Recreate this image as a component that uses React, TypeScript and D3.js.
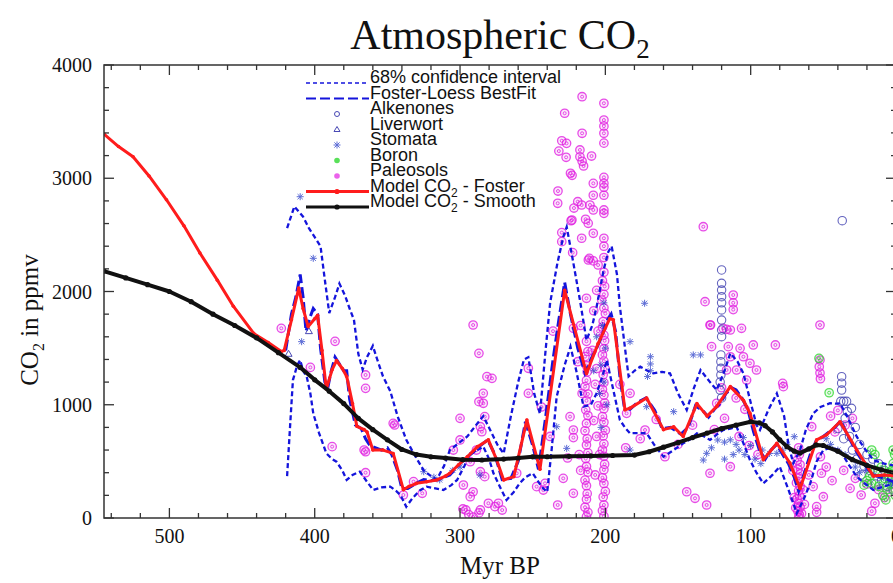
import React from 'react'
import * as d3 from 'd3'

const width = 893
const height = 583
const margin = {top: 65, right: -3, bottom: 65, left: 104}
const plotRight = width - margin.right
const plotBottom = height - margin.bottom

// [Myr BP, ppmv]
const smoothModel: [number, number][] = [
  [545, 2180], [530, 2120], [515, 2060], [500, 2000], [485, 1910], [470, 1800], [455, 1700],
  [440, 1590], [425, 1460], [410, 1330], [400, 1220], [390, 1120], [380, 1010], [370, 880],
  [360, 780], [350, 690], [340, 605], [330, 560], [320, 540], [310, 530], [298, 515], [285, 512],
  [270, 520], [260, 530], [250, 540], [240, 541], [225, 545], [210, 548], [195, 552], [180, 556],
  [170, 585], [160, 625], [150, 665], [140, 710], [130, 750], [120, 790], [110, 820], [100, 850],
  [94, 840], [90, 815], [85, 760], [80, 690], [75, 630], [70, 590], [66, 573], [60, 610],
  [55, 645], [50, 640], [40, 590], [30, 515], [20, 465], [10, 425], [0, 395],
]

const fosterModel: [number, number][] = [
  [545, 3390], [535, 3280], [525, 3190], [514, 3020], [502, 2810], [490, 2580], [479, 2340],
  [467, 2100], [456, 1870], [442, 1630], [432, 1550], [423, 1470], [421, 1480], [416, 1750],
  [411, 2030], [408, 1850], [404.5, 1690], [400, 1760], [398, 1790], [395, 1480], [392, 1140],
  [388, 1310], [385, 1390], [381, 1320], [378, 1250], [374, 1010], [371, 810], [366, 780],
  [364, 760], [360, 600], [353, 600], [346, 570], [339, 250], [335, 280], [330, 306], [323, 320],
  [316, 336], [310, 370], [307, 395], [301, 470], [295, 540], [288, 630], [280.5, 690], [275, 520],
  [270, 336], [263, 365], [254, 865], [245, 430], [228, 2010], [213, 1275], [205, 1540], [197, 1760],
  [194.5, 1750], [186.5, 955], [183, 970], [171.6, 1060], [160, 780], [153, 805], [146.4, 720],
  [137, 1010], [130, 900], [123.4, 985], [114, 1160], [105, 1040], [100.5, 925], [91.3, 515],
  [82, 660], [73, 485], [66, 260], [54.6, 690], [47.7, 735], [38.5, 850], [27, 600], [15.6, 370],
  [8, 380], [0, 370],
]

const loessFit: [number, number][] = [
  [420, 1480], [416, 1800], [413, 1950], [410, 2150], [408, 1950], [406, 1650], [403, 1780],
  [401, 1850], [398, 1800], [396, 1500], [393, 1200], [391, 1150], [389, 1280], [386, 1420],
  [383, 1360], [380, 1300], [378, 1300], [376, 1050], [372, 820], [368, 790], [365, 700],
  [362, 640], [358, 620], [354, 600], [350, 620], [347, 560], [343, 420], [340, 260], [336, 260],
  [331, 300], [325, 340], [320, 330], [315, 340], [311, 360], [307, 380], [303, 440], [297, 520],
  [291, 580], [286, 640], [281, 690], [276, 560], [271, 340], [265, 350], [260, 500], [255, 850],
  [250, 640], [246, 430], [241, 900], [236, 1400], [232, 1750], [228, 2080], [224, 1800],
  [219, 1500], [214, 1280], [210, 1400], [206, 1500], [202, 1620], [199, 1740], [196, 1800],
  [193, 1650], [190, 1250], [187, 980], [183, 960], [178, 1020], [172, 1060], [166, 950],
  [161, 790], [155, 800], [148, 740], [143, 800], [138, 990], [133, 950], [129, 890], [125, 960],
  [121, 1010], [117, 1100], [113, 1150], [110, 1130], [106, 1060], [102, 960], [98, 760],
  [94, 600], [90, 520], [86, 600], [82, 650], [78, 560], [74, 480], [70, 360], [67, 240],
  [63, 400], [59, 560], [55, 680], [50, 720], [46, 760], [42, 800], [38, 860], [34, 750],
  [30, 650], [26, 560], [21, 460], [16, 380], [10, 360], [4, 330], [0, 320],
]

const ciUpper: [number, number][] = [
  [419, 2560], [414, 2750], [410, 2690], [408, 2660], [404, 2560], [400, 2480], [396, 2400],
  [393, 2100], [390, 1810], [386, 1950], [383, 2070], [379, 1960], [376, 1850], [373, 1750],
  [370, 1450], [367, 1310], [364, 1420], [360, 1520], [357, 1400], [353, 1250], [348, 1120],
  [343, 900], [337, 690], [331, 550], [325, 420], [320, 370], [316, 340], [311, 460], [307, 600],
  [301, 660], [295, 720], [289, 820], [284, 900], [279, 770], [274, 640], [270, 570], [265, 900],
  [260, 1200], [256, 1400], [253, 1420], [249, 1100], [245, 920], [241, 1500], [238, 1900],
  [233, 2250], [229, 2480], [226.6, 2570], [222, 2250], [217.5, 1925], [213, 1570], [209, 1700],
  [206, 1866], [201, 2200], [198, 2350], [195.7, 2400], [192, 2150], [190, 1866], [186, 1450],
  [184, 1250], [180, 1300], [176, 1336], [171, 1300], [167, 1277], [161, 1290], [155.5, 1277],
  [150, 1100], [144, 954], [139, 1150], [134.5, 1307], [128, 1200], [123.4, 1130], [118, 1300],
  [114, 1454], [109, 1380], [105, 1277], [100, 1020], [96, 820], [93.6, 777], [88, 950],
  [82, 1100], [77, 900], [74, 650], [70.7, 483], [66, 600], [62, 780], [57, 924], [52, 980],
  [45.4, 1013], [41, 1010], [38.5, 1013], [33, 880], [27, 718], [22, 620], [15.6, 512],
  [8, 480], [0, 460],
]

const ciLower: [number, number][] = [
  [419, 370], [417, 800], [415, 1218], [412, 1350], [410, 1395], [408, 1300], [405.5, 1248],
  [403, 1100], [401, 924], [397, 750], [392, 571], [388, 520], [385, 497], [381, 420], [378, 336],
  [374, 380], [369, 409], [364, 320], [359.7, 247], [354, 270], [348, 277], [344, 240], [341, 203],
  [337, 100], [333, 170], [328, 240], [323, 277], [317, 262], [311.5, 247], [306, 290], [302, 336],
  [297, 460], [293, 571], [288, 600], [284, 630], [280, 520], [277, 395], [272, 260], [268, 159],
  [263, 230], [259, 306], [255, 360], [250, 395], [245, 300], [242.7, 260], [240, 230], [237, 600],
  [233.5, 1071], [228, 1350], [224, 1513], [220, 1300], [215, 983], [210, 1000], [206, 1101],
  [202, 1250], [199, 1395], [194, 1100], [190, 865], [186, 790], [183, 748], [177, 750],
  [171.6, 748], [166, 640], [160, 541], [153, 600], [146.4, 660], [141, 700], [137, 748],
  [132, 720], [128, 689], [123, 740], [119, 777], [114, 790], [109.7, 806], [105, 660],
  [100.5, 512], [96, 400], [91.3, 306], [85, 380], [80, 453], [74, 250], [68.3, 41], [63, 180],
  [59, 306], [54.6, 500], [50, 600], [45, 620], [38.5, 600], [33, 480], [27, 365], [21, 300],
  [15.6, 247], [8, 280], [0, 309],
]

const paleosols: [number, number][] = [
  [423, 1675], [403, 1330], [386, 1560], [365, 1263], [365, 1145], [388, 630], [366, 600],
  [346, 836], [365, 400], [345, 821], [365, 585], [332, 321], [326, 218], [339, 203],
  [291, 1704], [287, 1454], [281.5, 1248], [278, 1233], [284, 1101], [287, 1027], [284, 1013],
  [300, 880], [283, 895], [286, 806], [285, 762], [300, 689], [304.6, 600], [288.7, 600],
  [293, 497], [286, 409], [283, 365], [297.7, 291], [291, 232], [293, 188], [280.5, 130],
  [273.6, 130], [286, 71], [296, 71], [291, 9], [294, 30], [247.3, 277], [242.7, 247], [261, 395],
  [253, 1322], [253, 1101], [298, 80], [287, 45], [276, 100], [271, 70],
  [216, 3720], [201, 3662], [228, 3574], [201, 3514], [201, 3460], [216, 3397], [201, 3397],
  [230, 3331], [226.7, 3308], [201, 3310], [232, 3240], [217.5, 3250], [227, 3185], [217.5, 3190],
  [209.5, 3196], [216, 3150], [215, 3108], [224, 3044], [222.9, 3026], [201, 3008], [201, 2955],
  [208.3, 2955], [201, 2920], [232.6, 2887], [201, 2850], [208.3, 2850], [219, 2793], [216.3, 2764],
  [210.6, 2764], [208.3, 2720], [221.6, 2737], [201, 2720], [201, 2690], [213.6, 2638],
  [211.8, 2602], [223.6, 2625], [230, 2520], [208.3, 2514], [216.3, 2470], [230, 2440], [201, 2470],
  [201, 2400], [222.5, 2343], [211, 2293], [208.3, 2270], [205, 2234], [201, 2300], [232.8, 2779],
  [223, 2631], [211.7, 2278], [213, 1940], [222, 1675], [224.3, 895], [222, 777], [222, 710],
  [241.5, 306], [222, 218], [232.8, 115],
  [213, 1560], [212, 1470], [214, 1425], [213, 1345], [212.5, 1290], [213, 1215], [214, 1160],
  [212, 1095], [213, 1035], [213.5, 955], [212, 905], [213, 835], [214, 770], [212.5, 700],
  [213, 645], [212, 575], [213.5, 525], [213, 455], [212, 405], [214, 335], [213, 285],
  [212.5, 215], [213, 165], [214, 95], [212, 50], [213, 12],
  [201, 2170], [202, 2095], [200.5, 2045], [201, 1975], [202.5, 1925], [201, 1855], [200, 1805],
  [201.5, 1735], [202, 1685], [201, 1615], [200.5, 1565], [201, 1495], [202, 1440], [201, 1385],
  [200, 1315], [201.5, 1265], [201, 1195], [202, 1135], [201, 1085], [200.5, 1015], [201, 965],
  [202, 895], [201, 845], [200, 775], [201.5, 725], [201, 655], [202, 600], [201, 545],
  [200.5, 475], [201, 425], [202, 355], [201, 305], [200, 235], [201.5, 185], [201, 115],
  [202, 65], [201, 15],
  [206, 2010], [208, 1830], [205, 1650], [209, 1480], [206, 1320], [207, 1180], [205, 990],
  [208, 860], [206, 720], [204, 560], [207, 380], [217, 1700], [219, 1380], [216, 1100],
  [218, 560], [217, 420], [226, 530], [229, 350], [236, 1650], [238, 720], [244, 980],
  [183, 1101], [172.7, 777], [185.4, 924], [159, 541], [144, 232], [138.3, 174], [130.3, 115],
  [128, 395], [132.6, 2572], [131.4, 1910], [128, 1704], [126.9, 1513], [119, 1675], [112, 1969],
  [112, 1900], [112, 1840], [114, 1660], [106.3, 1675], [115.4, 1513], [98.2, 1528], [83, 1528],
  [107.3, 1498], [105, 1424], [100.5, 1366], [114, 1424], [116.6, 1307], [109.7, 1307], [96, 1307],
  [102.8, 1218], [123.4, 1013], [77.5, 1160], [114, 453], [116.6, 1666], [127.6, 1704],
  [120, 1150], [110, 1060], [104, 960], [118, 880], [125, 780], [108, 720], [101, 640], [95, 560],
  [140, 820], [150, 650], [165, 870], [176, 700], [190, 1180], [186, 620],
  [67, 620], [66.5, 560], [68, 510], [66, 470], [67.5, 430], [66, 390], [67, 350], [68.5, 310],
  [66, 280], [67, 240], [66.5, 200], [68, 170], [67, 130], [66, 95], [67.5, 60], [66.5, 30],
  [67, 5], [64, 250], [70, 180], [63, 120], [71, 420], [69, 90], [65, 40],
  [52.3, 1395], [52.8, 1336], [52.3, 1280], [52, 1230], [78, 1189], [52, 541], [51.3, 395],
  [58, 806], [57, 277], [50, 188], [54.6, 100], [54.6, 50], [24, 203], [14.5, 130], [16.7, 60],
  [31.6, 262], [52.3, 1704], [45, 900], [40, 950], [35, 820], [30, 880], [42, 760], [60, 380],
  [48, 450], [44, 330], [36, 420], [28, 350], [20, 300], [12, 250], [8, 180], [4, 230],
]

const alkenones: [number, number][] = [
  [120, 2190], [120, 2072], [120, 2013], [120, 1954], [120, 1900], [120, 1837], [120, 1748],
  [120, 1660], [120, 1601], [120.5, 1440], [120.5, 1380], [120.5, 1322], [120.5, 1263],
  [121, 1200], [121, 1130], [120, 1060], [37, 2625],
  [37.4, 1248], [37.4, 1190], [37.4, 1130], [38, 1030], [36, 1030], [34, 1030], [30.6, 968],
  [33.5, 940], [35, 880], [40, 790], [28, 800], [32, 720], [25, 650], [20, 560], [16, 520],
  [12, 480], [8, 420], [5, 380], [3, 350], [1, 300], [10, 330], [18, 420], [22, 460], [27, 520],
  [14, 300], [6, 280], [2, 250], [24, 380], [30, 600], [36, 700],
]

const liverwort: [number, number][] = [[418, 1450], [404, 1650]]

const stomata: [number, number][] = [
  [410, 2837], [401, 2293], [409, 1557], [325, 409], [314, 336], [318, 360], [286.3, 380],
  [305, 420], [300, 450], [173, 1896], [183, 1557], [169, 1424], [169, 1360], [169, 1300],
  [171, 1250], [139.5, 1440], [134.5, 1440], [153, 939], [171.6, 983], [233.5, 806], [226.6, 615],
  [183, 600], [130.3, 571], [132.6, 512], [127, 620], [122.7, 689], [118, 670], [114, 690],
  [110, 650], [105, 710], [100, 640], [92, 600], [87, 570], [82, 571], [78, 600], [70, 718],
  [75, 650], [201, 1900], [202, 1700], [200, 1500], [203, 1350], [201, 1200], [204, 1100],
  [199, 1000], [203, 800], [206, 1600], [208, 1300], [118, 520], [112, 560], [108, 600],
  [104, 560], [97, 520], [93, 480], [45, 650], [40, 600], [35, 560], [28, 450], [20, 420],
  [15, 380], [10, 350], [5, 320], [2, 300], [48, 700], [25, 400],
]

const boron: [number, number][] = [
  [53, 1410], [46, 1106], [16.7, 600], [14.5, 560], [2, 600], [1, 560], [16.7, 306], [12, 280],
  [8, 350], [5, 400], [3, 420], [10, 450], [18, 370], [20, 330], [6, 250], [4, 300], [1, 380],
  [2, 480], [14, 420], [22, 290], [9, 200], [7, 160], [0.5, 200],
]

const xTicks = [500, 400, 300, 200, 100, 0]
const yTicks = [0, 1000, 2000, 3000, 4000]

const legendItems = [
  {label: '68% confidence interval', kind: 'ci'},
  {label: 'Foster-Loess BestFit', kind: 'loess'},
  {label: 'Alkenones', kind: 'alk'},
  {label: 'Liverwort', kind: 'liv'},
  {label: 'Stomata', kind: 'sto'},
  {label: 'Boron', kind: 'bor'},
  {label: 'Paleosols', kind: 'pal'},
  {label: 'Model CO|2| - Foster', kind: 'foster'},
  {label: 'Model CO|2| - Smooth', kind: 'smooth'},
]

const PINK = '#e21fe2'
const BLUE = '#1414dc'
const ALK = '#4848b4'
const STO = '#3448cc'
const GREEN = '#2fd82f'
const RED = '#ff1c1c'

const x = d3.scaleLinear().domain([545, 0]).range([margin.left, plotRight])
const y = d3.scaleLinear().domain([0, 4000]).range([plotBottom, margin.top])
const line = d3.line<[number, number]>().x(d => x(d[0])).y(d => y(d[1]))

const serif = '"Liberation Serif", "Times New Roman", serif'
const sans = '"Liberation Sans", Arial, sans-serif'

const Ring = ({cx, cy, color}: {cx: number; cy: number; color: string}) => (
  <g opacity={0.8}>
    <circle cx={cx} cy={cy} r={4.2} fill={color} fillOpacity={0.12} stroke={color} strokeWidth={1.3} />
    <circle cx={cx} cy={cy} r={1.5} fill="none" stroke={color} strokeWidth={1} />
  </g>
)

const Star = ({cx, cy}: {cx: number; cy: number}) => (
  <path
    d={`M${cx - 3.5},${cy}H${cx + 3.5}M${cx},${cy - 3.5}V${cy + 3.5}M${cx - 2.6},${cy - 2.6}L${cx + 2.6},${cy + 2.6}M${cx - 2.6},${cy + 2.6}L${cx + 2.6},${cy - 2.6}`}
    stroke={STO}
    strokeWidth={1}
    opacity={0.8}
  />
)

const Tri = ({cx, cy}: {cx: number; cy: number}) => (
  <path d={`M${cx},${cy - 3.5}L${cx + 3.5},${cy + 2.5}L${cx - 3.5},${cy + 2.5}Z`} fill="none" stroke={ALK} strokeWidth={1} />
)

const LegendText = ({label, tx, ty}: {label: string; tx: number; ty: number}) => {
  const parts = label.split('|')
  return (
    <text x={tx} y={ty} dy="0.36em" fontFamily={sans} fontSize={18} fill="#111">
      {parts.map((p, i) =>
        i % 2 === 1 ? (
          <tspan key={i} fontSize={12} dy={5}>{p}</tspan>
        ) : (
          <tspan key={i} dy={i > 0 ? -5 : 0}>{p}</tspan>
        ),
      )}
    </text>
  )
}

export default function App() {
  const xMinor = d3.range(0, 546, 20)
  const yMinor = d3.range(0, 4001, 200)
  const legX0 = 306
  const legX1 = 369
  const legSym = 337

  return (
    <div style={{position: 'absolute', left: 0, top: 0}}>
      <svg width={width} height={height} style={{display: 'block', background: '#fff'}}>
        <defs>
          <clipPath id="plot">
            <rect x={margin.left} y={margin.top} width={plotRight - margin.left} height={plotBottom - margin.top} />
          </clipPath>
        </defs>

        <text x={500} y={49} textAnchor="middle" fontFamily={serif} fontSize={42} fill="#111">
          Atmospheric CO<tspan fontSize={27} dy={9}>2</tspan>
        </text>

        <g clipPath="url(#plot)">
          {paleosols.map((d, i) => (
            <Ring key={'p' + i} cx={x(d[0])} cy={y(d[1])} color={PINK} />
          ))}
          {alkenones.map((d, i) => (
            <circle key={'a' + i} cx={x(d[0])} cy={y(d[1])} r={4.2} fill="none" stroke={ALK} strokeWidth={1.1} opacity={0.85} />
          ))}
          {liverwort.map((d, i) => (
            <Tri key={'l' + i} cx={x(d[0])} cy={y(d[1])} />
          ))}
          {stomata.map((d, i) => (
            <Star key={'s' + i} cx={x(d[0])} cy={y(d[1])} />
          ))}
          {boron.map((d, i) => (
            <Ring key={'b' + i} cx={x(d[0])} cy={y(d[1])} color={GREEN} />
          ))}

          <path d={line(ciUpper) || ''} fill="none" stroke={BLUE} strokeWidth={2.3} strokeDasharray="5,3" />
          <path d={line(ciLower) || ''} fill="none" stroke={BLUE} strokeWidth={2.3} strokeDasharray="5,3" />
          <path d={line(loessFit) || ''} fill="none" stroke={BLUE} strokeWidth={3} strokeDasharray="11,4" />
          <path d={line(fosterModel) || ''} fill="none" stroke={RED} strokeWidth={3} strokeLinejoin="round" />
          {fosterModel.map((d, i) => (
            <circle key={'f' + i} cx={x(d[0])} cy={y(d[1])} r={1.8} fill={RED} />
          ))}
          <path d={line(smoothModel) || ''} fill="none" stroke="#111" strokeWidth={4} strokeLinejoin="round" />
          {smoothModel.map((d, i) => (
            <circle key={'k' + i} cx={x(d[0])} cy={y(d[1])} r={2.6} fill="#111" />
          ))}
        </g>

        {/* frame and ticks */}
        <rect x={margin.left} y={margin.top} width={plotRight - margin.left} height={plotBottom - margin.top} fill="none" stroke="#333" strokeWidth={1.5} />
        {xMinor.map(t => {
          const major = t % 100 === 0
          const len = major ? 10 : 5
          return (
            <g key={'xt' + t} stroke="#333" strokeWidth={1.3}>
              <line x1={x(t)} x2={x(t)} y1={plotBottom} y2={plotBottom - len} />
              <line x1={x(t)} x2={x(t)} y1={margin.top} y2={margin.top + len} />
            </g>
          )
        })}
        {yMinor.map(v => {
          const major = v % 1000 === 0
          const len = major ? 10 : 5
          return (
            <g key={'yt' + v} stroke="#333" strokeWidth={1.3}>
              <line x1={margin.left} x2={margin.left + len} y1={y(v)} y2={y(v)} />
              <line x1={plotRight} x2={plotRight - len} y1={y(v)} y2={y(v)} />
            </g>
          )
        })}
        {xTicks.map(t => (
          <text key={'xl' + t} x={x(t)} y={543} textAnchor="middle" fontFamily={serif} fontSize={20} fill="#111">
            {t}
          </text>
        ))}
        {yTicks.map(v => (
          <text key={'yl' + v} x={92} y={y(v)} dy="0.35em" textAnchor="end" fontFamily={serif} fontSize={20} fill="#111">
            {v}
          </text>
        ))}

        <text x={500} y={574} textAnchor="middle" fontFamily={serif} fontSize={25} fill="#111">
          Myr BP
        </text>
        <text transform="translate(38,320) rotate(-90)" textAnchor="middle" fontFamily={serif} fontSize={25} fill="#111">
          CO<tspan fontSize={16} dy={6}>2</tspan>
          <tspan dy={-6}> in ppmv</tspan>
        </text>

        {/* legend */}
        {legendItems.map((item, i) => {
          const ly = 83 + i * 15.5
          let sym: React.ReactNode = null
          if (item.kind === 'ci')
            sym = <line x1={legX0} x2={legX1} y1={ly} y2={ly} stroke={BLUE} strokeWidth={1.6} strokeDasharray="4,3" />
          else if (item.kind === 'loess')
            sym = <line x1={legX0} x2={legX1} y1={ly} y2={ly} stroke={BLUE} strokeWidth={2} strokeDasharray="10,4" />
          else if (item.kind === 'alk')
            sym = <circle cx={legSym} cy={ly} r={2.5} fill="none" stroke={ALK} strokeWidth={1} />
          else if (item.kind === 'liv')
            sym = <path d={`M${legSym},${ly - 3}L${legSym + 3},${ly + 2}L${legSym - 3},${ly + 2}Z`} fill="none" stroke={ALK} strokeWidth={1} />
          else if (item.kind === 'sto')
            sym = <Star cx={legSym} cy={ly} />
          else if (item.kind === 'bor')
            sym = <circle cx={legSym} cy={ly} r={2.8} fill={GREEN} opacity={0.8} />
          else if (item.kind === 'pal')
            sym = <circle cx={legSym} cy={ly} r={2.8} fill={PINK} opacity={0.7} />
          else if (item.kind === 'foster')
            sym = (
              <g>
                <line x1={legX0} x2={legX1} y1={ly} y2={ly} stroke={RED} strokeWidth={3} />
                <circle cx={legSym} cy={ly} r={2.6} fill={RED} />
              </g>
            )
          else
            sym = (
              <g>
                <line x1={legX0} x2={legX1} y1={ly} y2={ly} stroke="#111" strokeWidth={3} />
                <circle cx={legSym} cy={ly} r={2.6} fill="#111" />
              </g>
            )
          return (
            <g key={'lg' + i}>
              {sym}
              <LegendText label={item.label} tx={legX1 + 1} ty={ly} />
            </g>
          )
        })}
      </svg>
    </div>
  )
}
